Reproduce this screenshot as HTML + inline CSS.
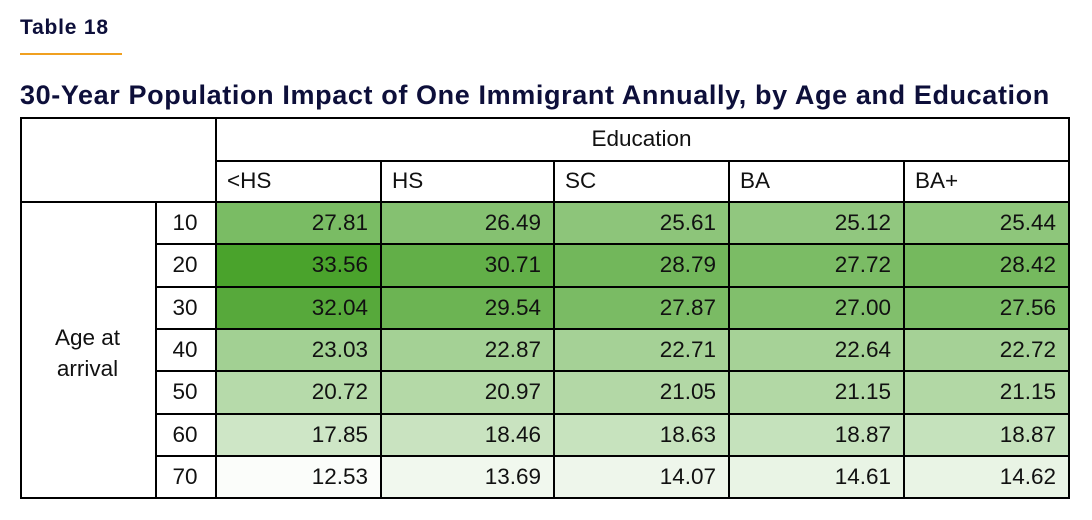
<!DOCTYPE html>
<html><head><meta charset="utf-8"><style>
body{margin:0;width:1092px;height:520px;background:#fff;font-family:"Liberation Sans",sans-serif;color:#111;position:relative;overflow:hidden}
.t{position:absolute;white-space:nowrap}
.c{position:absolute;box-sizing:border-box;font-size:22.5px;line-height:42px}
.ln{position:absolute;background:#000}
</style></head><body>
<div class="t" style="left:20px;top:16px;font-size:21px;font-weight:bold;color:#0d0f3a;letter-spacing:0.8px">Table 18</div>
<div class="ln" style="left:20px;top:53px;width:102px;height:2px;background:#f0a020"></div>
<div class="t" style="left:20px;top:80px;font-size:27px;font-weight:bold;color:#0d0f3a;letter-spacing:0.62px">30-Year Population Impact of One Immigrant Annually, by Age and Education</div>
<div id="tbl"></div>
<script>
const educ=["<HS","HS","SC","BA","BA+"];
const ages=["10","20","30","40","50","60","70"];
const r10=[27.81,26.49,25.61,25.12,25.44];
const r20=[33.56,30.71,28.79,27.72,28.42];
const r30=[32.04,29.54,27.87,27.00,27.56];
const r40=[23.03,22.87,22.71,22.64,22.72];
const r50=[20.72,20.97,21.05,21.15,21.15];
const r60=[17.85,18.46,18.63,18.87,18.87];
const r70=[12.53,13.69,14.07,14.61,14.62];
const rows=[r10,r20,r30,r40,r50,r60,r70];
const tbl=document.getElementById('tbl');
const colX=[215,380,553,728,903,1068];
const top0=202,rowH=42.3;
function color(v){let f=Math.max(0,Math.min(1,(v-12)/21.56));
 const r=Math.round(255-f*(255-74)),g=Math.round(255-f*(255-163)),b=Math.round(255-f*(255-44));return `rgb(${r},${g},${b})`;}
function add(cls,css,txt,name){const d=document.createElement('div');d.className=cls;d.style.cssText=css;if(txt!==undefined)d.textContent=txt;
 
 
 tbl.appendChild(d);return d;}
add('c','left:215px;top:117px;width:853px;height:43px;text-align:center;line-height:43px','Education','education-header');
educ.forEach((e,i)=>{add('c',`left:${colX[i]}px;top:160px;width:${colX[i+1]-colX[i]}px;height:42px;padding-left:12px`,e,'col-header-'+i);});
add('c','left:20px;top:202px;width:135px;height:296px;text-align:center;line-height:31px;padding-top:120px','Age at\narrival','row-group-header').style.whiteSpace='pre';
rows.forEach((row,ri)=>{const y=top0+ri*rowH;
 add('c',`left:155px;top:${y}px;width:60px;height:${rowH}px;text-align:center`,ages[ri],'age-'+ages[ri]);
 row.forEach((v,ci)=>{add('c',`left:${colX[ci]}px;top:${y}px;width:${colX[ci+1]-colX[ci]}px;height:${rowH}px;background:${color(v)};text-align:right;padding-right:12px`,v.toFixed(2),'cell-'+ages[ri]+'-'+ci);});
});
function hl(x1,x2,y){add('ln',`left:${x1}px;top:${Math.round(y)}px;width:${x2-x1+1}px;height:1.5px`,undefined,'grid-line');}
function vl(x,y1,y2){add('ln',`left:${x}px;top:${y1}px;width:1.5px;height:${Math.round(y2-y1)}px`,undefined,'grid-line');}
hl(20,1068,117);hl(215,1068,160);hl(20,1068,201);
for(let i=1;i<=6;i++)hl(155,1068,top0+i*rowH-1);
hl(20,1068,497);
vl(20,117,499);vl(215,117,499);vl(1068,117,499);vl(155,201,499);
for(let i=1;i<5;i++)vl(colX[i],160,499);
</script>
</body></html>
